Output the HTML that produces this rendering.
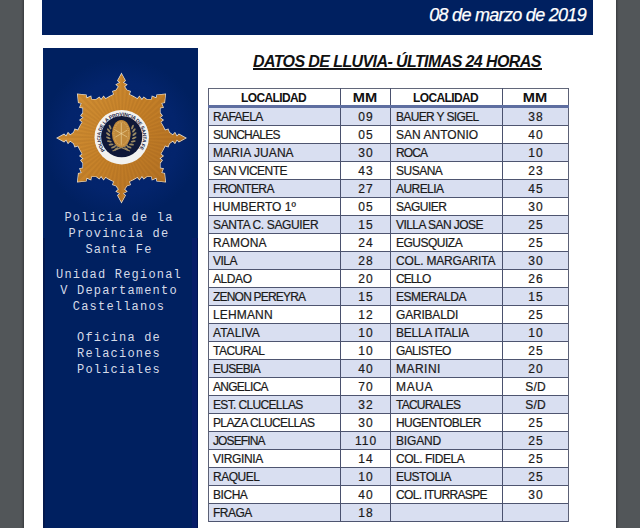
<!DOCTYPE html>
<html><head><meta charset="utf-8">
<style>
html,body{margin:0;padding:0;}
body{width:640px;height:528px;overflow:hidden;background:#525659;position:relative;font-family:"Liberation Sans",sans-serif;}
div{position:absolute;}
#page{left:24px;top:0;width:592px;height:528px;background:#fff;box-shadow:0 0 2px 1px rgba(0,0,0,0.35);}
#hdr{left:42px;top:0;width:551px;height:35px;background:#002060;}
#date{right:54px;top:5px;color:#fff;font-style:italic;font-size:18px;line-height:20px;letter-spacing:-0.7px;-webkit-text-stroke:0.25px #fff;white-space:nowrap;}
#side{left:43px;top:48px;width:155px;height:480px;background:#002060;}
svg{position:absolute;left:0;top:0;}
.st{left:43px;width:152px;text-align:center;font-family:"Liberation Mono",monospace;font-size:12px;letter-spacing:1.2px;line-height:15.8px;color:#d6dbe8;white-space:pre;}
#title{left:253px;top:53px;font-weight:bold;font-style:italic;font-size:16px;letter-spacing:-0.6px;line-height:18px;white-space:nowrap;color:#111;}
#uline{left:253px;top:68px;width:289px;height:2px;background:#111;}
.bg{left:209px;width:359px;height:17px;background:#d9dff1;}
.hl{left:208px;width:361px;height:1px;background:#4e5570;}
.hl.thick{height:3px;background:#5e6ea0;}
.vl{width:1px;background:#4a516e;}
.vl.o{background:#5c6176;}
.hl.o{background:#62677a;}
.th{font-weight:bold;font-size:12px;line-height:16px;text-align:center;color:#111;letter-spacing:-0.62px;margin-left:-1px;white-space:nowrap;}
.tl{font-size:12px;line-height:17px;color:#1a1a1a;-webkit-text-stroke:0.2px #1a1a1a;letter-spacing:-0.45px;white-space:nowrap;box-sizing:border-box;}
.sx{display:inline-block;transform:scaleX(1.22);letter-spacing:0;}
.l1{padding-left:4px;}
.tm.sd{letter-spacing:0.2px;padding-left:0.2px;}
.l2{padding-left:5px;}
.tm{font-size:12px;line-height:17px;color:#1a1a1a;-webkit-text-stroke:0.2px #1a1a1a;text-align:center;letter-spacing:1px;padding-left:1px;box-sizing:border-box;white-space:nowrap;}
</style></head><body>
<div id="page"></div>
<div id="hdr"></div>
<div id="date">08 de marzo de 2019</div>
<div id="side"></div>
<div style="left:192px;top:48px;width:5px;height:480px;background:#071d68"></div>
<div style="left:43px;top:48px;width:2px;height:480px;background:#03194e"></div>
<div style="left:197px;top:48px;width:1px;height:480px;background:#001550"></div>
<svg width="640" height="528" viewBox="0 0 640 528">
<defs>
<linearGradient id="g" x1="58" y1="100" x2="185" y2="180" gradientUnits="userSpaceOnUse">
<stop offset="0" stop-color="#d39236"/><stop offset="0.5" stop-color="#c58028"/><stop offset="1" stop-color="#b06e22"/>
</linearGradient>
<radialGradient id="glow" cx="121.5" cy="138" r="80" gradientUnits="userSpaceOnUse">
<stop offset="0" stop-color="#04256f"/><stop offset="0.7" stop-color="#03246c"/><stop offset="1" stop-color="#002060"/>
</radialGradient>
</defs>
<rect x="43" y="48" width="155" height="190" fill="url(#glow)"/>
<path d="M121.5,74.0 L125.1,80.5 L122.9,82.6 L126.5,84.6 L124.2,86.7 L126.9,90.3 L130.1,91.5 L129.1,94.5 L133.4,96.7 L137.5,99.0 L139.4,96.6 L141.9,100.0 L143.8,97.5 L146.6,99.6 L151.7,99.6 L152.3,96.5 L156.4,98.2 L157.0,95.1 L165.3,94.2 L164.4,102.5 L161.3,103.1 L163.0,107.2 L159.9,107.8 L159.9,112.9 L162.0,115.7 L159.5,117.6 L162.9,120.1 L160.5,122.0 L162.8,126.1 L165.0,130.4 L168.0,129.4 L169.2,132.6 L172.8,135.3 L174.9,133.0 L176.9,136.6 L179.0,134.4 L185.5,138.0 L179.0,141.6 L176.9,139.4 L174.9,143.0 L172.8,140.7 L169.2,143.4 L168.0,146.6 L165.0,145.6 L162.8,149.9 L160.5,154.0 L162.9,155.9 L159.5,158.4 L162.0,160.3 L159.9,163.1 L159.9,168.2 L163.0,168.8 L161.3,172.9 L164.4,173.5 L165.3,181.8 L157.0,180.9 L156.4,177.8 L152.3,179.5 L151.7,176.4 L146.6,176.4 L143.8,178.5 L141.9,176.0 L139.4,179.4 L137.5,177.0 L133.4,179.3 L129.1,181.5 L130.1,184.5 L126.9,185.7 L124.2,189.3 L126.5,191.4 L122.9,193.4 L125.1,195.5 L121.5,202.0 L117.9,195.5 L120.1,193.4 L116.5,191.4 L118.8,189.3 L116.1,185.7 L112.9,184.5 L113.9,181.5 L109.6,179.3 L105.5,177.0 L103.6,179.4 L101.1,176.0 L99.2,178.5 L96.4,176.4 L91.3,176.4 L90.7,179.5 L86.6,177.8 L86.0,180.9 L77.7,181.8 L78.6,173.5 L81.7,172.9 L80.0,168.8 L83.1,168.2 L83.1,163.1 L81.0,160.3 L83.5,158.4 L80.1,155.9 L82.5,154.0 L80.2,149.9 L78.0,145.6 L75.0,146.6 L73.8,143.4 L70.2,140.7 L68.1,143.0 L66.1,139.4 L64.0,141.6 L57.5,138.0 L64.0,134.4 L66.1,136.6 L68.1,133.0 L70.2,135.3 L73.8,132.6 L75.0,129.4 L78.0,130.4 L80.2,126.1 L82.5,122.0 L80.1,120.1 L83.5,117.6 L81.0,115.7 L83.1,112.9 L83.1,107.8 L80.0,107.2 L81.7,103.1 L78.6,102.5 L77.7,94.2 L86.0,95.1 L86.6,98.2 L90.7,96.5 L91.3,99.6 L96.4,99.6 L99.2,97.5 L101.1,100.0 L103.6,96.6 L105.5,99.0 L109.6,96.7 L113.9,94.5 L112.9,91.5 L116.1,90.3 L118.8,86.7 L116.5,84.6 L120.1,82.6 L117.9,80.5Z" fill="#1c1c3c" transform="translate(0.9,0.9)"/>
<path d="M121.5,74.0 L125.1,80.5 L122.9,82.6 L126.5,84.6 L124.2,86.7 L126.9,90.3 L130.1,91.5 L129.1,94.5 L133.4,96.7 L137.5,99.0 L139.4,96.6 L141.9,100.0 L143.8,97.5 L146.6,99.6 L151.7,99.6 L152.3,96.5 L156.4,98.2 L157.0,95.1 L165.3,94.2 L164.4,102.5 L161.3,103.1 L163.0,107.2 L159.9,107.8 L159.9,112.9 L162.0,115.7 L159.5,117.6 L162.9,120.1 L160.5,122.0 L162.8,126.1 L165.0,130.4 L168.0,129.4 L169.2,132.6 L172.8,135.3 L174.9,133.0 L176.9,136.6 L179.0,134.4 L185.5,138.0 L179.0,141.6 L176.9,139.4 L174.9,143.0 L172.8,140.7 L169.2,143.4 L168.0,146.6 L165.0,145.6 L162.8,149.9 L160.5,154.0 L162.9,155.9 L159.5,158.4 L162.0,160.3 L159.9,163.1 L159.9,168.2 L163.0,168.8 L161.3,172.9 L164.4,173.5 L165.3,181.8 L157.0,180.9 L156.4,177.8 L152.3,179.5 L151.7,176.4 L146.6,176.4 L143.8,178.5 L141.9,176.0 L139.4,179.4 L137.5,177.0 L133.4,179.3 L129.1,181.5 L130.1,184.5 L126.9,185.7 L124.2,189.3 L126.5,191.4 L122.9,193.4 L125.1,195.5 L121.5,202.0 L117.9,195.5 L120.1,193.4 L116.5,191.4 L118.8,189.3 L116.1,185.7 L112.9,184.5 L113.9,181.5 L109.6,179.3 L105.5,177.0 L103.6,179.4 L101.1,176.0 L99.2,178.5 L96.4,176.4 L91.3,176.4 L90.7,179.5 L86.6,177.8 L86.0,180.9 L77.7,181.8 L78.6,173.5 L81.7,172.9 L80.0,168.8 L83.1,168.2 L83.1,163.1 L81.0,160.3 L83.5,158.4 L80.1,155.9 L82.5,154.0 L80.2,149.9 L78.0,145.6 L75.0,146.6 L73.8,143.4 L70.2,140.7 L68.1,143.0 L66.1,139.4 L64.0,141.6 L57.5,138.0 L64.0,134.4 L66.1,136.6 L68.1,133.0 L70.2,135.3 L73.8,132.6 L75.0,129.4 L78.0,130.4 L80.2,126.1 L82.5,122.0 L80.1,120.1 L83.5,117.6 L81.0,115.7 L83.1,112.9 L83.1,107.8 L80.0,107.2 L81.7,103.1 L78.6,102.5 L77.7,94.2 L86.0,95.1 L86.6,98.2 L90.7,96.5 L91.3,99.6 L96.4,99.6 L99.2,97.5 L101.1,100.0 L103.6,96.6 L105.5,99.0 L109.6,96.7 L113.9,94.5 L112.9,91.5 L116.1,90.3 L118.8,86.7 L116.5,84.6 L120.1,82.6 L117.9,80.5Z" fill="none" stroke="#e4e0d8" stroke-width="1.4" stroke-linejoin="miter"/>
<clipPath id="sc"><path d="M121.5,74.0 L125.1,80.5 L122.9,82.6 L126.5,84.6 L124.2,86.7 L126.9,90.3 L130.1,91.5 L129.1,94.5 L133.4,96.7 L137.5,99.0 L139.4,96.6 L141.9,100.0 L143.8,97.5 L146.6,99.6 L151.7,99.6 L152.3,96.5 L156.4,98.2 L157.0,95.1 L165.3,94.2 L164.4,102.5 L161.3,103.1 L163.0,107.2 L159.9,107.8 L159.9,112.9 L162.0,115.7 L159.5,117.6 L162.9,120.1 L160.5,122.0 L162.8,126.1 L165.0,130.4 L168.0,129.4 L169.2,132.6 L172.8,135.3 L174.9,133.0 L176.9,136.6 L179.0,134.4 L185.5,138.0 L179.0,141.6 L176.9,139.4 L174.9,143.0 L172.8,140.7 L169.2,143.4 L168.0,146.6 L165.0,145.6 L162.8,149.9 L160.5,154.0 L162.9,155.9 L159.5,158.4 L162.0,160.3 L159.9,163.1 L159.9,168.2 L163.0,168.8 L161.3,172.9 L164.4,173.5 L165.3,181.8 L157.0,180.9 L156.4,177.8 L152.3,179.5 L151.7,176.4 L146.6,176.4 L143.8,178.5 L141.9,176.0 L139.4,179.4 L137.5,177.0 L133.4,179.3 L129.1,181.5 L130.1,184.5 L126.9,185.7 L124.2,189.3 L126.5,191.4 L122.9,193.4 L125.1,195.5 L121.5,202.0 L117.9,195.5 L120.1,193.4 L116.5,191.4 L118.8,189.3 L116.1,185.7 L112.9,184.5 L113.9,181.5 L109.6,179.3 L105.5,177.0 L103.6,179.4 L101.1,176.0 L99.2,178.5 L96.4,176.4 L91.3,176.4 L90.7,179.5 L86.6,177.8 L86.0,180.9 L77.7,181.8 L78.6,173.5 L81.7,172.9 L80.0,168.8 L83.1,168.2 L83.1,163.1 L81.0,160.3 L83.5,158.4 L80.1,155.9 L82.5,154.0 L80.2,149.9 L78.0,145.6 L75.0,146.6 L73.8,143.4 L70.2,140.7 L68.1,143.0 L66.1,139.4 L64.0,141.6 L57.5,138.0 L64.0,134.4 L66.1,136.6 L68.1,133.0 L70.2,135.3 L73.8,132.6 L75.0,129.4 L78.0,130.4 L80.2,126.1 L82.5,122.0 L80.1,120.1 L83.5,117.6 L81.0,115.7 L83.1,112.9 L83.1,107.8 L80.0,107.2 L81.7,103.1 L78.6,102.5 L77.7,94.2 L86.0,95.1 L86.6,98.2 L90.7,96.5 L91.3,99.6 L96.4,99.6 L99.2,97.5 L101.1,100.0 L103.6,96.6 L105.5,99.0 L109.6,96.7 L113.9,94.5 L112.9,91.5 L116.1,90.3 L118.8,86.7 L116.5,84.6 L120.1,82.6 L117.9,80.5Z"/></clipPath>
<path d="M121.5,74.0 L125.1,80.5 L122.9,82.6 L126.5,84.6 L124.2,86.7 L126.9,90.3 L130.1,91.5 L129.1,94.5 L133.4,96.7 L137.5,99.0 L139.4,96.6 L141.9,100.0 L143.8,97.5 L146.6,99.6 L151.7,99.6 L152.3,96.5 L156.4,98.2 L157.0,95.1 L165.3,94.2 L164.4,102.5 L161.3,103.1 L163.0,107.2 L159.9,107.8 L159.9,112.9 L162.0,115.7 L159.5,117.6 L162.9,120.1 L160.5,122.0 L162.8,126.1 L165.0,130.4 L168.0,129.4 L169.2,132.6 L172.8,135.3 L174.9,133.0 L176.9,136.6 L179.0,134.4 L185.5,138.0 L179.0,141.6 L176.9,139.4 L174.9,143.0 L172.8,140.7 L169.2,143.4 L168.0,146.6 L165.0,145.6 L162.8,149.9 L160.5,154.0 L162.9,155.9 L159.5,158.4 L162.0,160.3 L159.9,163.1 L159.9,168.2 L163.0,168.8 L161.3,172.9 L164.4,173.5 L165.3,181.8 L157.0,180.9 L156.4,177.8 L152.3,179.5 L151.7,176.4 L146.6,176.4 L143.8,178.5 L141.9,176.0 L139.4,179.4 L137.5,177.0 L133.4,179.3 L129.1,181.5 L130.1,184.5 L126.9,185.7 L124.2,189.3 L126.5,191.4 L122.9,193.4 L125.1,195.5 L121.5,202.0 L117.9,195.5 L120.1,193.4 L116.5,191.4 L118.8,189.3 L116.1,185.7 L112.9,184.5 L113.9,181.5 L109.6,179.3 L105.5,177.0 L103.6,179.4 L101.1,176.0 L99.2,178.5 L96.4,176.4 L91.3,176.4 L90.7,179.5 L86.6,177.8 L86.0,180.9 L77.7,181.8 L78.6,173.5 L81.7,172.9 L80.0,168.8 L83.1,168.2 L83.1,163.1 L81.0,160.3 L83.5,158.4 L80.1,155.9 L82.5,154.0 L80.2,149.9 L78.0,145.6 L75.0,146.6 L73.8,143.4 L70.2,140.7 L68.1,143.0 L66.1,139.4 L64.0,141.6 L57.5,138.0 L64.0,134.4 L66.1,136.6 L68.1,133.0 L70.2,135.3 L73.8,132.6 L75.0,129.4 L78.0,130.4 L80.2,126.1 L82.5,122.0 L80.1,120.1 L83.5,117.6 L81.0,115.7 L83.1,112.9 L83.1,107.8 L80.0,107.2 L81.7,103.1 L78.6,102.5 L77.7,94.2 L86.0,95.1 L86.6,98.2 L90.7,96.5 L91.3,99.6 L96.4,99.6 L99.2,97.5 L101.1,100.0 L103.6,96.6 L105.5,99.0 L109.6,96.7 L113.9,94.5 L112.9,91.5 L116.1,90.3 L118.8,86.7 L116.5,84.6 L120.1,82.6 L117.9,80.5Z" fill="url(#g)"/>
<path d="M121.5,138 L121.5,72.0 L124.7,72.1Z M121.5,138 L128.0,72.3 L131.2,72.7Z M121.5,138 L134.4,73.3 L137.5,74.0Z M121.5,138 L140.7,74.8 L143.7,75.9Z M121.5,138 L146.8,77.0 L149.7,78.3Z M121.5,138 L152.6,79.8 L155.4,81.4Z M121.5,138 L158.2,83.1 L160.8,85.0Z M121.5,138 L163.4,87.0 L165.8,89.1Z M121.5,138 L168.2,91.3 L170.4,93.7Z M121.5,138 L172.5,96.1 L174.5,98.7Z M121.5,138 L176.4,101.3 L178.1,104.1Z M121.5,138 L179.7,106.9 L181.2,109.8Z M121.5,138 L182.5,112.7 L183.6,115.8Z M121.5,138 L184.7,118.8 L185.5,122.0Z M121.5,138 L186.2,125.1 L186.8,128.3Z M121.5,138 L187.2,131.5 L187.4,134.8Z M121.5,138 L187.5,138.0 L187.4,141.2Z M121.5,138 L187.2,144.5 L186.8,147.7Z M121.5,138 L186.2,150.9 L185.5,154.0Z M121.5,138 L184.7,157.2 L183.6,160.2Z M121.5,138 L182.5,163.3 L181.2,166.2Z M121.5,138 L179.7,169.1 L178.1,171.9Z M121.5,138 L176.4,174.7 L174.5,177.3Z M121.5,138 L172.5,179.9 L170.4,182.3Z M121.5,138 L168.2,184.7 L165.8,186.9Z M121.5,138 L163.4,189.0 L160.8,191.0Z M121.5,138 L158.2,192.9 L155.4,194.6Z M121.5,138 L152.6,196.2 L149.7,197.7Z M121.5,138 L146.8,199.0 L143.7,200.1Z M121.5,138 L140.7,201.2 L137.5,202.0Z M121.5,138 L134.4,202.7 L131.2,203.3Z M121.5,138 L128.0,203.7 L124.7,203.9Z M121.5,138 L121.5,204.0 L118.3,203.9Z M121.5,138 L115.0,203.7 L111.8,203.3Z M121.5,138 L108.6,202.7 L105.5,202.0Z M121.5,138 L102.3,201.2 L99.3,200.1Z M121.5,138 L96.2,199.0 L93.3,197.7Z M121.5,138 L90.4,196.2 L87.6,194.6Z M121.5,138 L84.8,192.9 L82.2,191.0Z M121.5,138 L79.6,189.0 L77.2,186.9Z M121.5,138 L74.8,184.7 L72.6,182.3Z M121.5,138 L70.5,179.9 L68.5,177.3Z M121.5,138 L66.6,174.7 L64.9,171.9Z M121.5,138 L63.3,169.1 L61.8,166.2Z M121.5,138 L60.5,163.3 L59.4,160.2Z M121.5,138 L58.3,157.2 L57.5,154.0Z M121.5,138 L56.8,150.9 L56.2,147.7Z M121.5,138 L55.8,144.5 L55.6,141.2Z M121.5,138 L55.5,138.0 L55.6,134.8Z M121.5,138 L55.8,131.5 L56.2,128.3Z M121.5,138 L56.8,125.1 L57.5,122.0Z M121.5,138 L58.3,118.8 L59.4,115.8Z M121.5,138 L60.5,112.7 L61.8,109.8Z M121.5,138 L63.3,106.9 L64.9,104.1Z M121.5,138 L66.6,101.3 L68.5,98.7Z M121.5,138 L70.5,96.1 L72.6,93.7Z M121.5,138 L74.8,91.3 L77.2,89.1Z M121.5,138 L79.6,87.0 L82.2,85.0Z M121.5,138 L84.8,83.1 L87.6,81.4Z M121.5,138 L90.4,79.8 L93.3,78.3Z M121.5,138 L96.2,77.0 L99.3,75.9Z M121.5,138 L102.3,74.8 L105.5,74.0Z M121.5,138 L108.6,73.3 L111.8,72.7Z M121.5,138 L115.0,72.3 L118.3,72.1Z" fill="#7a4510" opacity="0.10" clip-path="url(#sc)"/>
<circle cx="121.7" cy="137.2" r="27.2" fill="#f2f2f0"/>
<circle cx="121.7" cy="136.6" r="20.6" fill="#0f1838"/>
<path id="tp" d="M103.42,151.48 A23.2,23.2 0 1 1 140.93,150.17" fill="none"/>
<text font-family="Liberation Sans" font-weight="bold" font-size="5.0" fill="#1b2444" textLength="101" lengthAdjust="spacingAndGlyphs" dy="2"><textPath href="#tp">POLICIA DE LA PROVINCIA DE SANTA FE</textPath></text>
<ellipse cx="116.36" cy="148.91" rx="2.5" ry="1.0" transform="rotate(147.0 116.36 148.91)" fill="#9a8a64"/>
<ellipse cx="113.49" cy="147.09" rx="2.5" ry="1.0" transform="rotate(161.3 113.49 147.09)" fill="#9a8a64"/>
<ellipse cx="111.10" cy="144.53" rx="2.5" ry="1.0" transform="rotate(175.6 111.10 144.53)" fill="#9a8a64"/>
<ellipse cx="109.35" cy="141.37" rx="2.5" ry="1.0" transform="rotate(189.9 109.35 141.37)" fill="#9a8a64"/>
<ellipse cx="108.34" cy="137.83" rx="2.5" ry="1.0" transform="rotate(204.1 108.34 137.83)" fill="#9a8a64"/>
<ellipse cx="108.12" cy="134.10" rx="2.5" ry="1.0" transform="rotate(218.4 108.12 134.10)" fill="#9a8a64"/>
<ellipse cx="108.73" cy="130.44" rx="2.5" ry="1.0" transform="rotate(232.7 108.73 130.44)" fill="#9a8a64"/>
<ellipse cx="110.11" cy="127.05" rx="2.5" ry="1.0" transform="rotate(247.0 110.11 127.05)" fill="#9a8a64"/>
<ellipse cx="126.24" cy="148.91" rx="2.5" ry="1.0" transform="rotate(33.0 126.24 148.91)" fill="#9a8a64"/>
<ellipse cx="129.11" cy="147.09" rx="2.5" ry="1.0" transform="rotate(18.7 129.11 147.09)" fill="#9a8a64"/>
<ellipse cx="131.50" cy="144.53" rx="2.5" ry="1.0" transform="rotate(4.4 131.50 144.53)" fill="#9a8a64"/>
<ellipse cx="133.25" cy="141.37" rx="2.5" ry="1.0" transform="rotate(-9.9 133.25 141.37)" fill="#9a8a64"/>
<ellipse cx="134.26" cy="137.83" rx="2.5" ry="1.0" transform="rotate(-24.1 134.26 137.83)" fill="#9a8a64"/>
<ellipse cx="134.48" cy="134.10" rx="2.5" ry="1.0" transform="rotate(-38.4 134.48 134.10)" fill="#9a8a64"/>
<ellipse cx="133.87" cy="130.44" rx="2.5" ry="1.0" transform="rotate(-52.7 133.87 130.44)" fill="#9a8a64"/>
<ellipse cx="132.49" cy="127.05" rx="2.5" ry="1.0" transform="rotate(-67.0 132.49 127.05)" fill="#9a8a64"/>
<path d="M112.5,151 L128,145 M130,151 L114.5,145" stroke="#9a8a64" stroke-width="1.3"/>
<ellipse cx="121.3" cy="133.6" rx="9.4" ry="13.6" fill="#c08a3c"/>
<ellipse cx="121.3" cy="133.6" rx="7.4" ry="11.6" fill="none" stroke="#ecc47e" stroke-width="0.8" stroke-dasharray="0.8 1.3"/>
<path d="M121.3,122.6 L121.3,144.6 M115.3,130.1 L127.3,137.1 M115.3,137.1 L127.3,130.1" stroke="#f0d8a0" stroke-width="0.6"/>
</svg>
<div class="st" style="top:211px">Policia de la
Provincia de
Santa Fe</div>
<div class="st" style="top:268px">Unidad Regional
V Departamento
Castellanos</div>
<div class="st" style="top:331px">Oficina de
Relaciones
Policiales</div>
<div id="title">DATOS DE LLUVIA- ÚLTIMAS 24 HORAS</div>
<div id="uline"></div>
<div class="bg" style="top:108px"></div>
<div class="bg" style="top:144px"></div>
<div class="bg" style="top:180px"></div>
<div class="bg" style="top:216px"></div>
<div class="bg" style="top:252px"></div>
<div class="bg" style="top:288px"></div>
<div class="bg" style="top:324px"></div>
<div class="bg" style="top:360px"></div>
<div class="bg" style="top:396px"></div>
<div class="bg" style="top:432px"></div>
<div class="bg" style="top:468px"></div>
<div class="bg" style="top:504px"></div>
<div class="hl o" style="top:88px"></div>
<div class="hl" style="top:125px"></div>
<div class="hl" style="top:143px"></div>
<div class="hl" style="top:161px"></div>
<div class="hl" style="top:179px"></div>
<div class="hl" style="top:197px"></div>
<div class="hl" style="top:215px"></div>
<div class="hl" style="top:233px"></div>
<div class="hl" style="top:251px"></div>
<div class="hl" style="top:269px"></div>
<div class="hl" style="top:287px"></div>
<div class="hl" style="top:305px"></div>
<div class="hl" style="top:323px"></div>
<div class="hl" style="top:341px"></div>
<div class="hl" style="top:359px"></div>
<div class="hl" style="top:377px"></div>
<div class="hl" style="top:395px"></div>
<div class="hl" style="top:413px"></div>
<div class="hl" style="top:431px"></div>
<div class="hl" style="top:449px"></div>
<div class="hl" style="top:467px"></div>
<div class="hl" style="top:485px"></div>
<div class="hl" style="top:503px"></div>
<div class="hl" style="top:521px"></div>
<div class="vl o" style="left:208px;top:88px;height:434px"></div>
<div class="vl" style="left:340px;top:88px;height:434px"></div>
<div class="vl" style="left:390px;top:88px;height:434px"></div>
<div class="vl" style="left:502px;top:88px;height:434px"></div>
<div class="vl o" style="left:568px;top:88px;height:434px"></div>
<div class="hl thick" style="top:105px"></div>
<div class="th" style="left:209px;width:131px;top:90px;height:16px">LOCALIDAD</div>
<div class="th" style="left:341px;width:49px;top:90px;height:16px"><span class="sx">MM</span></div>
<div class="th" style="left:391px;width:111px;top:90px;height:16px">LOCALIDAD</div>
<div class="th" style="left:503px;width:65px;top:90px;height:16px"><span class="sx">MM</span></div>
<div class="tl l1" style="left:209px;width:131px;top:109px;height:17px;letter-spacing:-0.62px">RAFAELA</div>
<div class="tm" style="left:341px;width:49px;top:109px;height:17px">09</div>
<div class="tl l2" style="left:391px;width:111px;top:109px;height:17px;letter-spacing:-0.64px">BAUER Y SIGEL</div>
<div class="tm" style="left:503px;width:65px;top:109px;height:17px">38</div>
<div class="tl l1" style="left:209px;width:131px;top:127px;height:17px;letter-spacing:-0.72px">SUNCHALES</div>
<div class="tm" style="left:341px;width:49px;top:127px;height:17px">05</div>
<div class="tl l2" style="left:391px;width:111px;top:127px;height:17px;letter-spacing:0.03px">SAN ANTONIO</div>
<div class="tm" style="left:503px;width:65px;top:127px;height:17px">40</div>
<div class="tl l1" style="left:209px;width:131px;top:145px;height:17px;letter-spacing:0.06px">MARIA JUANA</div>
<div class="tm" style="left:341px;width:49px;top:145px;height:17px">30</div>
<div class="tl l2" style="left:391px;width:111px;top:145px;height:17px;letter-spacing:-0.93px">ROCA</div>
<div class="tm" style="left:503px;width:65px;top:145px;height:17px">10</div>
<div class="tl l1" style="left:209px;width:131px;top:163px;height:17px;letter-spacing:-0.56px">SAN VICENTE</div>
<div class="tm" style="left:341px;width:49px;top:163px;height:17px">43</div>
<div class="tl l2" style="left:391px;width:111px;top:163px;height:17px;letter-spacing:-0.50px">SUSANA</div>
<div class="tm" style="left:503px;width:65px;top:163px;height:17px">23</div>
<div class="tl l1" style="left:209px;width:131px;top:181px;height:17px;letter-spacing:-0.66px">FRONTERA</div>
<div class="tm" style="left:341px;width:49px;top:181px;height:17px">27</div>
<div class="tl l2" style="left:391px;width:111px;top:181px;height:17px;letter-spacing:-0.57px">AURELIA</div>
<div class="tm" style="left:503px;width:65px;top:181px;height:17px">45</div>
<div class="tl l1" style="left:209px;width:131px;top:199px;height:17px;letter-spacing:0.03px">HUMBERTO 1º</div>
<div class="tm" style="left:341px;width:49px;top:199px;height:17px">05</div>
<div class="tl l2" style="left:391px;width:111px;top:199px;height:17px;letter-spacing:-0.50px">SAGUIER</div>
<div class="tm" style="left:503px;width:65px;top:199px;height:17px">30</div>
<div class="tl l1" style="left:209px;width:131px;top:217px;height:17px;letter-spacing:-0.37px">SANTA C. SAGUIER</div>
<div class="tm" style="left:341px;width:49px;top:217px;height:17px">15</div>
<div class="tl l2" style="left:391px;width:111px;top:217px;height:17px;letter-spacing:-0.55px">VILLA SAN JOSE</div>
<div class="tm" style="left:503px;width:65px;top:217px;height:17px">25</div>
<div class="tl l1" style="left:209px;width:131px;top:235px;height:17px;letter-spacing:0.16px">RAMONA</div>
<div class="tm" style="left:341px;width:49px;top:235px;height:17px">24</div>
<div class="tl l2" style="left:391px;width:111px;top:235px;height:17px;letter-spacing:-0.50px">EGUSQUIZA</div>
<div class="tm" style="left:503px;width:65px;top:235px;height:17px">25</div>
<div class="tl l1" style="left:209px;width:131px;top:253px;height:17px;letter-spacing:-0.50px">VILA</div>
<div class="tm" style="left:341px;width:49px;top:253px;height:17px">28</div>
<div class="tl l2" style="left:391px;width:111px;top:253px;height:17px;letter-spacing:-0.18px">COL. MARGARITA</div>
<div class="tm" style="left:503px;width:65px;top:253px;height:17px">30</div>
<div class="tl l1" style="left:209px;width:131px;top:271px;height:17px;letter-spacing:-0.42px">ALDAO</div>
<div class="tm" style="left:341px;width:49px;top:271px;height:17px">20</div>
<div class="tl l2" style="left:391px;width:111px;top:271px;height:17px;letter-spacing:-1.02px">CELLO</div>
<div class="tm" style="left:503px;width:65px;top:271px;height:17px">26</div>
<div class="tl l1" style="left:209px;width:131px;top:289px;height:17px;letter-spacing:-0.80px">ZENON PEREYRA</div>
<div class="tm" style="left:341px;width:49px;top:289px;height:17px">15</div>
<div class="tl l2" style="left:391px;width:111px;top:289px;height:17px;letter-spacing:-0.45px">ESMERALDA</div>
<div class="tm" style="left:503px;width:65px;top:289px;height:17px">15</div>
<div class="tl l1" style="left:209px;width:131px;top:307px;height:17px;letter-spacing:0.15px">LEHMANN</div>
<div class="tm" style="left:341px;width:49px;top:307px;height:17px">12</div>
<div class="tl l2" style="left:391px;width:111px;top:307px;height:17px;letter-spacing:-0.20px">GARIBALDI</div>
<div class="tm" style="left:503px;width:65px;top:307px;height:17px">25</div>
<div class="tl l1" style="left:209px;width:131px;top:325px;height:17px;letter-spacing:0.03px">ATALIVA</div>
<div class="tm" style="left:341px;width:49px;top:325px;height:17px">10</div>
<div class="tl l2" style="left:391px;width:111px;top:325px;height:17px;letter-spacing:-0.26px">BELLA ITALIA</div>
<div class="tm" style="left:503px;width:65px;top:325px;height:17px">10</div>
<div class="tl l1" style="left:209px;width:131px;top:343px;height:17px;letter-spacing:-0.53px">TACURAL</div>
<div class="tm" style="left:341px;width:49px;top:343px;height:17px">10</div>
<div class="tl l2" style="left:391px;width:111px;top:343px;height:17px;letter-spacing:-0.67px">GALISTEO</div>
<div class="tm" style="left:503px;width:65px;top:343px;height:17px">25</div>
<div class="tl l1" style="left:209px;width:131px;top:361px;height:17px;letter-spacing:-0.73px">EUSEBIA</div>
<div class="tm" style="left:341px;width:49px;top:361px;height:17px">40</div>
<div class="tl l2" style="left:391px;width:111px;top:361px;height:17px;letter-spacing:0.48px">MARINI</div>
<div class="tm" style="left:503px;width:65px;top:361px;height:17px">20</div>
<div class="tl l1" style="left:209px;width:131px;top:379px;height:17px;letter-spacing:-0.73px">ANGELICA</div>
<div class="tm" style="left:341px;width:49px;top:379px;height:17px">70</div>
<div class="tl l2" style="left:391px;width:111px;top:379px;height:17px;letter-spacing:0.63px">MAUA</div>
<div class="tm sd" style="left:503px;width:65px;top:379px;height:17px">S/D</div>
<div class="tl l1" style="left:209px;width:131px;top:397px;height:17px;letter-spacing:-0.65px">EST. CLUCELLAS</div>
<div class="tm" style="left:341px;width:49px;top:397px;height:17px">32</div>
<div class="tl l2" style="left:391px;width:111px;top:397px;height:17px;letter-spacing:-0.76px">TACURALES</div>
<div class="tm sd" style="left:503px;width:65px;top:397px;height:17px">S/D</div>
<div class="tl l1" style="left:209px;width:131px;top:415px;height:17px;letter-spacing:-0.63px">PLAZA CLUCELLAS</div>
<div class="tm" style="left:341px;width:49px;top:415px;height:17px">30</div>
<div class="tl l2" style="left:391px;width:111px;top:415px;height:17px;letter-spacing:-0.57px">HUGENTOBLER</div>
<div class="tm" style="left:503px;width:65px;top:415px;height:17px">25</div>
<div class="tl l1" style="left:209px;width:131px;top:433px;height:17px;letter-spacing:-0.89px">JOSEFINA</div>
<div class="tm" style="left:341px;width:49px;top:433px;height:17px">110</div>
<div class="tl l2" style="left:391px;width:111px;top:433px;height:17px;letter-spacing:-0.16px">BIGAND</div>
<div class="tm" style="left:503px;width:65px;top:433px;height:17px">25</div>
<div class="tl l1" style="left:209px;width:131px;top:451px;height:17px;letter-spacing:-0.33px">VIRGINIA</div>
<div class="tm" style="left:341px;width:49px;top:451px;height:17px">14</div>
<div class="tl l2" style="left:391px;width:111px;top:451px;height:17px;letter-spacing:-0.47px">COL. FIDELA</div>
<div class="tm" style="left:503px;width:65px;top:451px;height:17px">25</div>
<div class="tl l1" style="left:209px;width:131px;top:469px;height:17px;letter-spacing:-0.48px">RAQUEL</div>
<div class="tm" style="left:341px;width:49px;top:469px;height:17px">10</div>
<div class="tl l2" style="left:391px;width:111px;top:469px;height:17px;letter-spacing:-0.53px">EUSTOLIA</div>
<div class="tm" style="left:503px;width:65px;top:469px;height:17px">25</div>
<div class="tl l1" style="left:209px;width:131px;top:487px;height:17px;letter-spacing:-0.45px">BICHA</div>
<div class="tm" style="left:341px;width:49px;top:487px;height:17px">40</div>
<div class="tl l2" style="left:391px;width:111px;top:487px;height:17px;letter-spacing:-0.65px">COL. ITURRASPE</div>
<div class="tm" style="left:503px;width:65px;top:487px;height:17px">30</div>
<div class="tl l1" style="left:209px;width:131px;top:505px;height:17px;letter-spacing:-0.53px">FRAGA</div>
<div class="tm" style="left:341px;width:49px;top:505px;height:17px">18</div>
<div class="tl l2" style="left:391px;width:111px;top:505px;height:17px"></div>
<div class="tm" style="left:503px;width:65px;top:505px;height:17px"></div>
</body></html>
